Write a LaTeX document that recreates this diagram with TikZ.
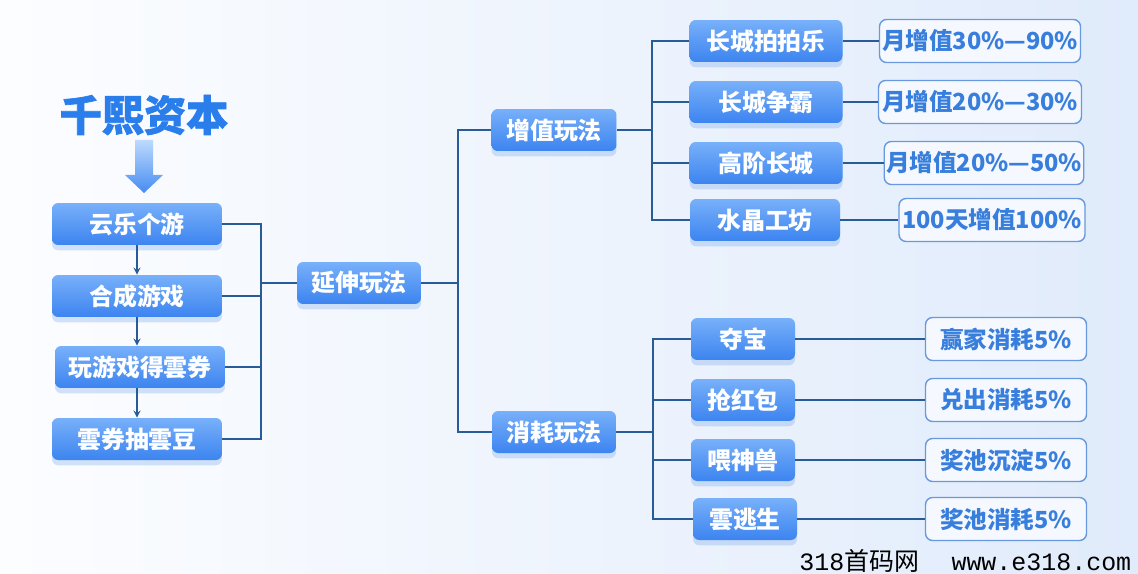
\documentclass[tikz,border=0pt]{standalone}
\usepackage{fontspec}
\setmainfont{Noto Sans CJK SC}
\newfontfamily\monofont{Liberation Mono}
\newfontfamily\brandfont{Noto Sans CJK SC}[BoldFeatures={FakeBold=1.6}]
\usetikzlibrary{shadows}
\definecolor{bgleft}{RGB}{252, 253, 255}
\definecolor{bgright}{RGB}{224, 235, 251}
\definecolor{boxtop}{RGB}{120, 176, 250}
\definecolor{boxbot}{RGB}{60, 132, 240}
\definecolor{glow}{RGB}{130, 175, 240}
\definecolor{linkblue}{RGB}{40, 92, 152}
\definecolor{tagline}{RGB}{104, 152, 222}
\definecolor{tagfill}{RGB}{245, 249, 255}
\definecolor{tagtext}{RGB}{56, 126, 220}
\definecolor{brandblue}{RGB}{42, 126, 236}
\definecolor{arrowtop}{RGB}{190, 218, 252}
\definecolor{arrowbot}{RGB}{70, 140, 242}

\begin{document}
\begin{tikzpicture}[x=0.02cm, y=-0.02cm,
    game/.style={rounded corners=3.5pt, top color=boxtop, bottom color=boxbot, text=white,
                 font=\bfseries\fontsize{13.6}{16}\selectfont, minimum height=0.84cm,
                 drop shadow={shadow xshift=0pt, shadow yshift=-3pt, fill=glow, opacity=0.35}},
    gain/.style={rounded corners=4pt, draw=tagline, fill=tagfill, text=tagtext, line width=0.8pt,
                 font=\bfseries\fontsize{13.4}{16}\selectfont, minimum height=0.86cm, inner sep=1pt},
    link/.style={draw=linkblue, line width=1.2pt}]
            \useasboundingbox (0,0) rectangle (1138,574);
            \shade[left color=bgleft, right color=bgright] (0,0) rectangle (1138,574);

            \node[text=brandblue, font=\brandfont\bfseries\fontsize{24}{28}\selectfont] (brand) at (144,115) {千熙资本};
            \shade[top color=arrowtop, bottom color=arrowbot]
                 (135,140) -- (153,140) -- (153,175) -- (163,175) -- (144,193) -- (125,175) -- (135,175) -- cycle;

            \node[game, minimum width=3.40cm] (yunle)   at (137,224) {云乐个游};
            \node[game, minimum width=3.40cm] (hecheng) at (137,296) {合成游戏};
            \node[game, minimum width=3.40cm] (wanyou)  at (140,367) {玩游戏得雲券};
            \node[game, minimum width=3.40cm] (choudou) at (137,439) {雲券抽雲豆};
            \node[game, minimum width=2.48cm] (yanshen) at (359,283) {延伸玩法};
            \node[game, minimum width=2.50cm] (zengzhi) at (554,130) {增值玩法};
            \node[game, minimum width=2.48cm] (xiaohao) at (554,432) {消耗玩法};

            \node[game, minimum width=3.06cm] (paipai)  at (766, 41) {长城拍拍乐};
            \node[game, minimum width=3.06cm] (zhengba) at (766,102) {长城争霸};
            \node[game, minimum width=3.06cm] (gaojie)  at (766,163) {高阶长城};
            \node[game, minimum width=3.00cm] (shuijing) at (765,220) {水晶工坊};
            \node[game, minimum width=2.08cm] (duobao)  at (743,339) {夺宝};
            \node[game, minimum width=2.08cm] (hongbao) at (743,400) {抢红包};
            \node[game, minimum width=2.08cm] (shenshou) at (743,460) {喂神兽};
            \node[game, minimum width=2.08cm] (taosheng) at (745,519) {雲逃生};

            \node[gain, minimum width=4.02cm] (rateA) at ( 980, 41) {月增值30\%—90\%};
            \node[gain, minimum width=4.06cm] (rateB) at ( 980,102) {月增值20\%—30\%};
            \node[gain, minimum width=3.96cm] (rateC) at ( 984,163) {月增值20\%—50\%};
            \node[gain, minimum width=3.72cm] (rateD) at ( 992,220) {100天增值100\%};
            \node[gain, minimum width=3.22cm] (costA) at (1006,339) {赢家消耗5\%};
            \node[gain, minimum width=3.22cm] (costB) at (1006,400) {兑出消耗5\%};
            \node[gain, minimum width=3.22cm] (costC) at (1006,460) {奖池沉淀5\%};
            \node[gain, minimum width=3.22cm] (costD) at (1006,519) {奖池消耗5\%};

            \coordinate (leftbus)  at (261,283);
            \coordinate (midbus)   at (458,283);
            \coordinate (upbus)    at (652,130);
            \coordinate (downbus)  at (653,432);

            \draw[link, line width=0.8pt, -stealth] (yunle.south)   -- (hecheng.north);
            \draw[link, line width=0.8pt, -stealth] (hecheng.south) -- (hecheng.south |- wanyou.north);
            \draw[link, line width=0.8pt, -stealth] (hecheng.south |- wanyou.south) -- (choudou.north);

            \draw[link] (yunle.east) -| (leftbus) |- (choudou.east);
            \draw[link] (hecheng.east) -- (hecheng.east -| leftbus);
            \draw[link] (wanyou.east)  -- (wanyou.east -| leftbus);
            \draw[link] (leftbus) -- (yanshen.west);
            \draw[link] (yanshen.east) -- (midbus);
            \draw[link] (zengzhi.west) -| (midbus) |- (xiaohao.west);

            \draw[link] (zengzhi.east) -- (upbus);
            \draw[link] (paipai.west) -| (upbus) |- (shuijing.west);
            \draw[link] (zhengba.west) -- (zhengba.west -| upbus);
            \draw[link] (gaojie.west)  -- (gaojie.west -| upbus);
            \draw[link] (xiaohao.east) -- (downbus);
            \draw[link] (duobao.west) -| (downbus) |- (taosheng.west);
            \draw[link] (hongbao.west)  -- (hongbao.west -| downbus);
            \draw[link] (shenshou.west) -- (shenshou.west -| downbus);

            \draw[link] (paipai.east)   -- (rateA.west);
            \draw[link] (zhengba.east)  -- (rateB.west);
            \draw[link] (gaojie.east)   -- (rateC.west);
            \draw[link] (shuijing.east) -- (rateD.west);
            \draw[link] (duobao.east)   -- (costA.west);
            \draw[link] (hongbao.east)  -- (costB.west);
            \draw[link] (shenshou.east) -- (costC.west);
            \draw[link] (taosheng.east) -- (costD.west);

            \node[anchor=base west, inner sep=0pt, font=\fontsize{14.2}{16}\selectfont] (mark) at (799,570)
                 {{\monofont 318}首码网\hspace{1.3em}{\monofont www.e318.com}};
            \end{tikzpicture}
\end{document}
